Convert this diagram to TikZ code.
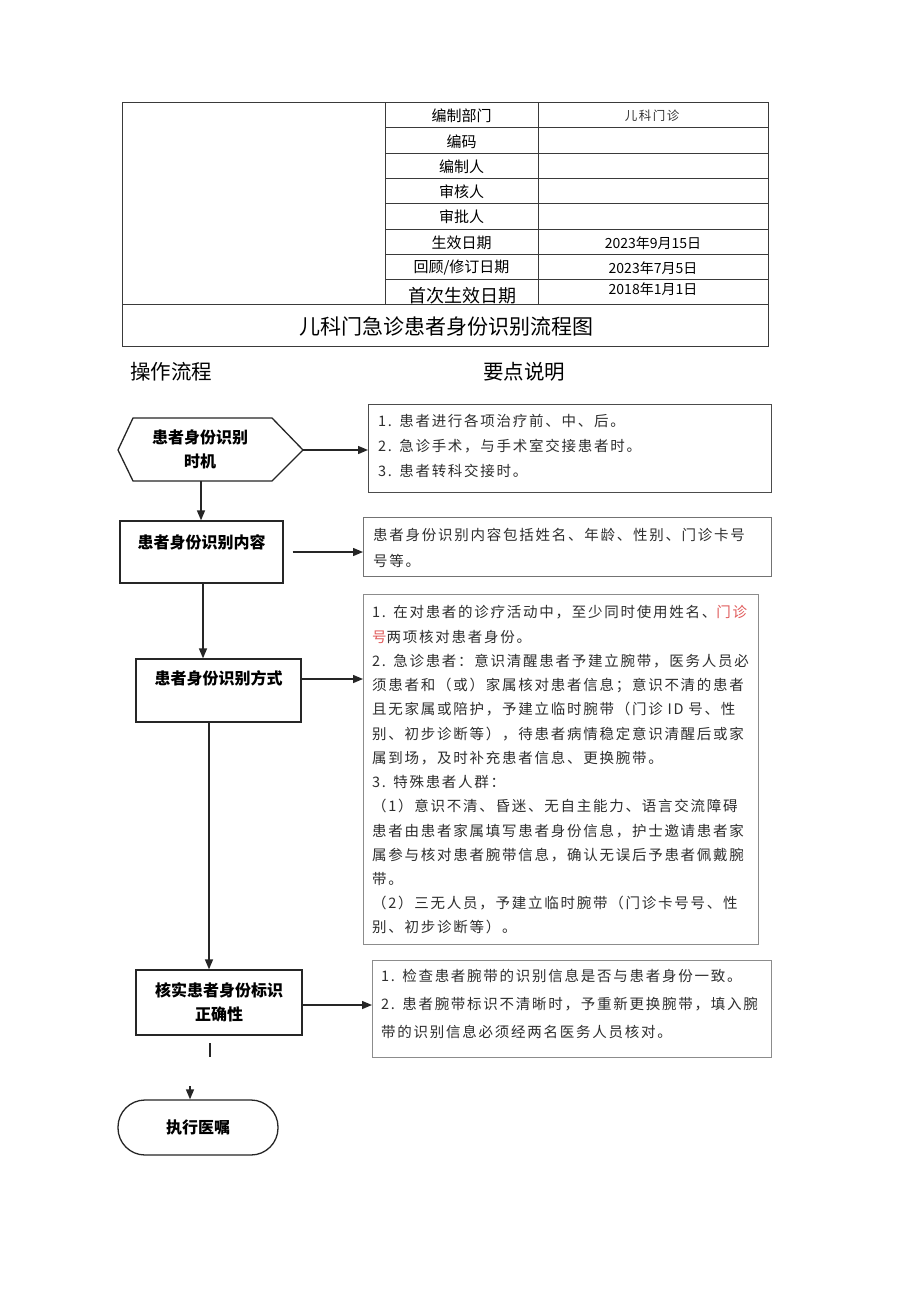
\documentclass[tikz,border=0pt]{standalone}
\usepackage{fontspec}
\setmainfont{Liberation Sans}
\newfontfamily\cjk{Noto Sans CJK SC}
\newfontfamily\cjkls[LetterSpace=12]{Noto Sans CJK SC}
\usetikzlibrary{arrows.meta,calc}
\definecolor{linegray}{HTML}{3A3A3A}
\definecolor{boxgray}{HTML}{8C8C8C}
\definecolor{txtgray}{HTML}{2E2E2E}
\definecolor{redtxt}{HTML}{E05A5A}
\begin{document}
\begin{tikzpicture}[x=1pt,y=-1pt,
  tline/.style={draw=linegray,line width=0.9pt},
  ttext/.style={font=\cjk\fontsize{15}{17}\selectfont,inner sep=0,text=black},
  flowline/.style={draw=black!85,line width=1.3pt},
  flowbox/.style={draw=black!85,line width=1.3pt,inner sep=0,font=\cjk\bfseries\fontsize{16}{24}\selectfont},
  notebox/.style={draw=boxgray,line width=1.1pt,inner sep=0,anchor=north west},
  notetext/.style={anchor=north west,inner sep=0,align=left,text width=390pt,text=txtgray},
  arr/.style={draw=black!85,line width=1.4pt,-{Triangle[length=10pt,width=8pt]}},
]
\useasboundingbox[fill=white] (0,0) rectangle (920,1301);

% ---------- header table ----------
\draw[tline] (122,102) rectangle (768,346);
\draw[tline] (122,304) -- (768,304);
\draw[tline] (385,102) -- (385,304);
\draw[tline] (538,102) -- (538,304);
\foreach \yy in {127,153,178,203,229,254,279}
  \draw[tline] (385,\yy) -- (768,\yy);

\node[ttext] (h1) at (461.5,116) {编制部门};
\node[ttext] (h2) at (461.5,142) {编码};
\node[ttext] (h3) at (461.5,167) {编制人};
\node[ttext] (h4) at (461.5,192) {审核人};
\node[ttext] (h5) at (461.5,217) {审批人};
\node[ttext] (h6) at (461.5,243) {生效日期};
\node[ttext] (h7) at (461.5,268) {回顾/修订日期};
\node[ttext,font=\cjk\fontsize{18}{20}\selectfont] (h8) at (462,296) {首次生效日期};

\node[ttext,font=\cjkls\fontsize{12.5}{14}\selectfont,text=black!80] (v1) at (652,116) {儿科门诊};
\node[ttext,font=\cjk\fontsize{14}{16}\selectfont] (v6) at (653,243) {2023年9月15日};
\node[ttext,font=\cjk\fontsize{14}{16}\selectfont] (v7) at (653,268) {2023年7月5日};
\node[ttext,font=\cjk\fontsize{14}{16}\selectfont] (v8) at (653,289) {2018年1月1日};

\node[ttext,font=\cjk\fontsize{21}{24}\selectfont] (title) at (446,327) {儿科门急诊患者身份识别流程图};

\node[ttext,font=\cjk\fontsize{20.5}{24}\selectfont] (lh) at (171,372) {操作流程};
\node[ttext,font=\cjk\fontsize{20.5}{24}\selectfont] (rh) at (524,372) {要点说明};

% ---------- flow nodes ----------
\node[inner sep=0,align=center,font=\cjk\bfseries\fontsize{16}{24}\selectfont] (t) at (200,449) {患者身份识别\\时机};
\draw[flowline] (118,450) -- (133,418) -- (272,418) -- (303,450) -- (272,481) -- (133,481) -- cycle;
\coordinate (hexR) at (303,450);
\coordinate (hexB) at (201,481);

\node[flowbox,minimum width=163pt,text height=27pt,text depth=35pt] (b2) at (201.5,552) {患者身份识别内容};
\node[flowbox,minimum width=165pt,text height=25pt,text depth=38pt] (b3) at (218.5,690.5) {患者身份识别方式};
\node[flowbox,minimum width=166pt,minimum height=65pt,align=center] (b4) at (219,1002.5) {核实患者身份标识\\正确性};
\node[flowbox,minimum width=160pt,minimum height=55pt,rounded corners=27pt] (ex) at (198,1127.5) {执行医嘱};

% ---------- note boxes ----------
\node[notebox,draw=black!70,minimum width=403pt,minimum height=88pt] (r1) at (368,404) {};
\node[notetext,font=\cjkls\fontsize{14.5}{25}\selectfont] (r1t) at (378,414) {1. 患者进行各项治疗前、中、后。\\2. 急诊手术，与手术室交接患者时。\\3. 患者转科交接时。};

\node[notebox,draw=black!55,minimum width=408pt,minimum height=59pt] (r2) at (363,517) {};
\node[notetext,font=\cjkls\fontsize{14.5}{26}\selectfont] (r2t) at (373,528) {患者身份识别内容包括姓名、年龄、性别、门诊卡号\\号等。};

\node[notebox,minimum width=395pt,minimum height=350pt] (r3) at (363,594) {};
\node[notetext,font=\cjkls\fontsize{14.5}{24.23}\selectfont] (r3t) at (372,605.5) {1. 在对患者的诊疗活动中，至少同时使用姓名、\textcolor{redtxt}{门诊}\\\textcolor{redtxt}{号}两项核对患者身份。\\2. 急诊患者：意识清醒患者予建立腕带，医务人员必\\须患者和（或）家属核对患者信息；意识不清的患者\\且无家属或陪护，予建立临时腕带（门诊 ID 号、性\\别、初步诊断等），待患者病情稳定意识清醒后或家\\属到场，及时补充患者信息、更换腕带。\\3. 特殊患者人群：\\（1）意识不清、昏迷、无自主能力、语言交流障碍\\患者由患者家属填写患者身份信息，护士邀请患者家\\属参与核对患者腕带信息，确认无误后予患者佩戴腕\\带。\\（2）三无人员，予建立临时腕带（门诊卡号号、性\\别、初步诊断等）。};

\node[notebox,minimum width=399pt,minimum height=97pt] (r4) at (372,960) {};
\node[notetext,font=\cjkls\fontsize{14.5}{28}\selectfont] (r4t) at (381,968.5) {1. 检查患者腕带的识别信息是否与患者身份一致。\\2. 患者腕带标识不清晰时，予重新更换腕带，填入腕\\带的识别信息必须经两名医务人员核对。};

% ---------- connectors ----------
\draw[arr] (hexR) -- (hexR -| r1.west);
\draw[arr] (hexB) -- (hexB |- b2.north);
\draw[arr,shorten <=9pt] (b2.east) -- (b2.east -| r2.west);
\coordinate (b2s) at (203,583);
\draw[arr] (b2s) -- (b2s |- b3.north);
\coordinate (a3) at (301,679);
\draw[arr] (a3) -- (a3 -| r3.west);
\coordinate (b3s) at (209,722);
\draw[arr] (b3s) -- (b3s |- b4.north);
\coordinate (a4) at (302,1005);
\draw[arr] (a4) -- (a4 -| r4.west);
\coordinate (s1) at (210,1043);
\coordinate (s2) at (210,1057);
\draw[flowline] (s1) -- (s2);
\coordinate (s3) at (190,1086);
\draw[arr] (s3) -- (s3 |- ex.north);
\end{tikzpicture}
\end{document}
